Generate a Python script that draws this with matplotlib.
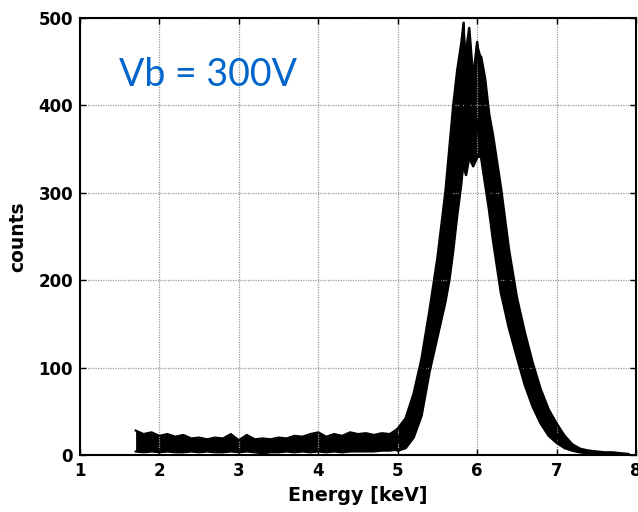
import matplotlib
matplotlib.use('Agg')
import numpy as np
import matplotlib.pyplot as plt

# background region (1.7 - 5.0 keV), band of overlapping noisy spectra
bg_energy = [1.7, 1.8, 1.9, 2.0, 2.1, 2.2, 2.3, 2.4, 2.5, 2.6, 2.7, 2.8, 2.9, 3.0,
             3.1, 3.2, 3.3, 3.4, 3.5, 3.6, 3.7, 3.8, 3.9, 4.0, 4.1, 4.2, 4.3, 4.4,
             4.5, 4.6, 4.7, 4.8, 4.9, 5.0]
bg_top = [28, 24, 26, 22, 24, 21, 23, 19, 20, 18, 20, 19, 24, 17,
          23, 18, 19, 18, 20, 19, 22, 21, 24, 26, 21, 24, 22, 26,
          24, 25, 23, 25, 24, 30]
bg_bottom = [4, 3, 4, 3, 4, 3, 3, 4, 3, 4, 3, 3, 4, 3,
             4, 3, 2, 3, 3, 4, 3, 4, 3, 4, 3, 4, 3, 4,
             4, 4, 4, 5, 5, 6]

# peak region: a few representative traces (leftmost, middle ones, rightmost)
peak_energy = [5.0, 5.1, 5.2, 5.3, 5.4, 5.5, 5.6, 5.65, 5.7, 5.75, 5.8, 5.83, 5.86,
               5.9, 5.95, 6.0, 6.05, 6.1, 6.15, 6.2, 6.3, 6.4, 6.5, 6.6, 6.7, 6.8,
               6.9, 7.0, 7.1, 7.2, 7.3, 7.4, 7.5, 7.6, 7.7, 7.8, 7.9]
trace_left = [30, 42, 70, 110, 165, 225, 300, 350, 400, 440, 470, 494, 360,
              420, 400, 380, 340, 310, 280, 245, 185, 145, 112, 80, 55, 36,
              22, 14, 8, 5, 3, 2, 1, 1, 0, 0, 0]
trace_mid1 = [15, 25, 45, 80, 125, 180, 240, 280, 320, 360, 400, 430, 460,
              488, 430, 472, 410, 380, 345, 310, 250, 195, 150, 110, 80, 55,
              36, 24, 14, 8, 5, 3, 2, 2, 1, 1, 1]
trace_mid2 = [20, 30, 55, 95, 140, 200, 265, 300, 330, 350, 340, 330, 320,
              340, 330, 340, 350, 330, 300, 285, 240, 185, 140, 100, 72, 48,
              32, 20, 12, 7, 4, 3, 2, 1, 1, 1, 0]
trace_right = [5, 8, 20, 45, 95, 135, 175, 200, 235, 275, 310, 340, 370,
               400, 430, 460, 455, 430, 390, 365, 305, 235, 180, 140, 105, 75,
               52, 36, 22, 12, 7, 5, 4, 3, 3, 2, 1]

plt.rcParams['font.family'] = ['DejaVu Sans']

fig = plt.figure(figsize=(6.38, 5.12), dpi=100)
ax = fig.add_axes([0.1254, 0.1113, 0.8715, 0.8545])

ax.fill_between(bg_energy, bg_bottom, bg_top, color='black', lw=0)
ax.plot(bg_energy, bg_top, color='black', lw=1.5)
ax.plot(bg_energy, bg_bottom, color='black', lw=1.5)

traces = np.array([trace_left, trace_mid1, trace_mid2, trace_right])
ax.fill_between(peak_energy, traces.min(axis=0), traces.max(axis=0), color='black', lw=0)
for tr in traces:
    ax.plot(peak_energy, tr, color='black', lw=1.8)

ax.set_xlim(1, 8)
ax.set_ylim(0, 500)
ax.set_xticks(range(1, 9))
ax.set_yticks(range(0, 501, 100))
ax.grid(True, color='#999999', linestyle=(0, (1, 1)), lw=0.9)
ax.tick_params(direction='in', top=True, right=True, length=4, width=1, labelsize=12, pad=5)
for lab in ax.get_xticklabels() + ax.get_yticklabels():
    lab.set_fontweight('bold')
for sp in ax.spines.values():
    sp.set_linewidth(1.5)

ax.set_xlabel('Energy [keV]', fontsize=13.8, fontweight='bold', labelpad=4)
ax.set_ylabel('counts', fontsize=13.5, fontweight='bold', labelpad=8)

ax.text(1.485, 422, 'Vb = 300V', color='#0066CC', fontsize=27, family='Lato', va='baseline')

fig.savefig('out.png', dpi=100)
